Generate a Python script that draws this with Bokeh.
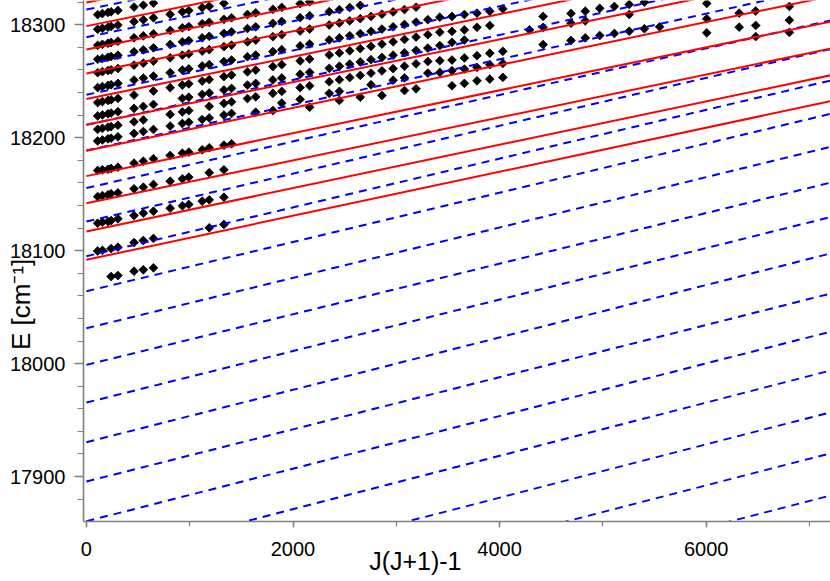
import math
from bokeh.plotting import figure
from bokeh.models import Range1d, SingleIntervalTicker
from bokeh.embed import file_html
from bokeh.resources import INLINE

x_title = "J(J+1)-1"
y_title = "E [cm\u207b\u00b9]"
x_tick_step = 2000
y_tick_step = 100

# red solid term lines: energy at J(J+1)-1 = 0 and slope
red_e0 = [18091.9, 18117.0, 18142.0, 18166.0, 18188.4, 18211.4, 18234.2, 18256.9, 18278.1, 18298.8, 18319.7]
red_b = [0.0195, 0.0192, 0.0190, 0.0190, 0.0190, 0.0189, 0.0188, 0.0187, 0.0186, 0.0185, 0.0184]
# blue dashed term lines
blue_e0 = [17713.2, 17750.6, 17786.9, 17823.9, 17860.4, 17895.6, 17930.4, 17965.5, 17998.9, 18031.3,
           18064.1, 18095.1, 18125.8, 18155.5, 18188.7, 18211.4, 18238.0, 18264.6, 18289.0, 18313.5]
blue_b = [0.0236, 0.0236, 0.0236, 0.0236, 0.0233, 0.0231, 0.0232, 0.0228, 0.0224, 0.0223,
          0.0218, 0.0216, 0.0212, 0.0206, 0.0202, 0.0199, 0.0196, 0.0193, 0.0190, 0.0187]
line_x_end = 7300

# observed levels (x = J(J+1)-1, E in cm^-1)
row01_x = [239, 305, 461, 551, 649]
row01_e = [18077.1, 18078.0, 18081.8, 18083.1, 18084.8]
row02_x = [109, 155, 239, 305, 461, 551, 649, 1189, 1331]
row02_e = [18099.7, 18100.3, 18101.9, 18103.1, 18107.2, 18109.0, 18110.8, 18120.2, 18123.2]
row03_x = [109, 155, 209, 239, 305, 461, 551, 649, 811, 929, 991, 1121, 1189, 1331]
row03_e = [18124.3, 18125.2, 18125.8, 18126.7, 18128.2, 18131.1, 18133.2, 18134.9, 18137.6, 18139.7, 18140.9, 18143.8, 18145.0, 18147.3]
row04_x = [109, 155, 209, 239, 305, 461, 551, 649, 811, 929, 991, 1189, 1331]
row04_e = [18147.9, 18148.8, 18149.5, 18150.4, 18151.2, 18154.8, 18156.2, 18158.6, 18161.5, 18163.6, 18165.1, 18169.0, 18171.6]
row05_x = [109, 155, 209, 239, 305, 461, 551, 649, 811, 929, 991, 1121, 1189, 1331, 1405]
row05_e = [18171.0, 18171.6, 18172.1, 18172.8, 18173.9, 18177.5, 18179.2, 18181.4, 18184.3, 18186.3, 18187.2, 18189.3, 18191.1, 18193.4, 18194.6]
row05b_x = [1639, 1805, 2161, 2449, 2651, 2861, 3079, 3191, 3539, 3659, 3781, 3905, 4031]
row05b_e = [18222.6, 18224.1, 18227.0, 18233.0, 18235.9, 18237.4, 18241.8, 18243.3, 18246.0, 18248.1, 18250.4, 18251.9, 18253.4]
row06_x = [109, 155, 209, 239, 305, 461, 551, 649, 811, 929, 991, 1121, 1189, 1331, 1405, 1891, 2069, 2351, 2449, 2755, 2969,
           3079, 3305, 3421, 3539, 3659, 3781, 3905, 4031]
row06_e = [18197.1, 18198.0, 18199.0, 18199.6, 18200.8, 18203.8, 18205.5, 18207.3, 18210.3, 18212.6, 18213.7, 18216.2, 18217.5, 18220.1,
           18221.5, 18230.7, 18234.0, 18239.3, 18241.1, 18246.9, 18250.9, 18253.0, 18257.2, 18257.8, 18259.4, 18260.8, 18262.3, 18264.7,
           18265.8]
row07_x = [109, 155, 209, 239, 305, 461, 551, 811, 929, 991, 1189, 1331, 1405, 1559, 1639, 1805, 1891, 2069, 2161, 2351, 2449, 2549,
           2651, 2755, 2861, 2969, 3079, 3191, 3305, 3421, 3539, 3659, 3781, 3905, 4031]
row07_e = [18207.4, 18208.3, 18209.3, 18209.9, 18211.1, 18214.1, 18215.8, 18220.6, 18222.9, 18224.0, 18227.8, 18230.4, 18231.8, 18234.7,
           18236.2, 18239.3, 18241.0, 18244.3, 18246.0, 18249.6, 18251.4, 18253.3, 18255.2, 18257.2, 18259.2, 18261.2, 18263.3, 18265.4,
           18267.5, 18268.2, 18268.8, 18270.6, 18272.6, 18274.8, 18276.5]
row08_x = [109, 155, 209, 239, 305, 461, 551, 649, 929, 991, 1121, 1189, 1331, 1405, 1559, 1639, 1805, 1891, 2069, 2161, 2351, 2449,
           2549, 2651, 2755, 2861, 2969, 3079, 3191, 3305, 3421, 3539, 3659]
row08_e = [18219.3, 18220.2, 18221.2, 18221.8, 18223.0, 18226.0, 18227.7, 18229.5, 18234.8, 18235.9, 18238.4, 18239.7, 18242.3, 18243.7,
           18246.6, 18248.1, 18251.2, 18252.9, 18256.2, 18257.9, 18261.5, 18263.3, 18265.2, 18267.1, 18269.1, 18271.1, 18273.1, 18275.2,
           18277.3, 18279.4, 18281.6, 18284.5, 18286.5]
row09_x = [109, 155, 209, 239, 305, 461, 649, 811, 929, 991, 1121, 1189, 1331, 1405, 1559, 1639, 1805, 1891, 2069, 2161, 2351, 2449,
           2549, 2651, 2755, 2861, 2969, 3079, 3191, 3305, 3421, 3539, 3659, 3781, 3905]
row09_e = [18231.1, 18232.0, 18233.0, 18233.6, 18234.8, 18237.8, 18241.3, 18244.3, 18246.6, 18247.7, 18250.2, 18251.5, 18254.1, 18255.5,
           18258.4, 18259.9, 18263.0, 18264.7, 18268.0, 18269.7, 18273.3, 18275.1, 18277.0, 18278.9, 18280.9, 18282.9, 18284.9, 18287.0,
           18289.1, 18291.2, 18293.4, 18294.2, 18295.5, 18297.8, 18299.3]
row10_x = [109, 155, 209, 239, 305, 461, 551, 649, 811, 929, 991, 1121, 1189, 1331, 1405, 1559, 1639, 1805, 1891, 2069, 2161, 2351,
           2449, 2549, 2651, 2755, 2861, 2969, 3079, 3191, 3305, 3421, 3539, 3659, 3781, 3905, 4031]
row10_e = [18244.4, 18245.3, 18246.3, 18246.9, 18248.1, 18251.1, 18252.8, 18254.6, 18257.6, 18259.9, 18261.0, 18263.5, 18264.8, 18267.4,
           18268.8, 18271.7, 18273.2, 18276.3, 18278.0, 18281.3, 18283.0, 18286.6, 18288.4, 18290.3, 18292.2, 18294.2, 18296.2, 18298.2,
           18300.3, 18302.4, 18304.5, 18306.7, 18307.4, 18309.1, 18310.3, 18312.0, 18314.1]
row11_x = [109, 155, 209, 239, 305, 461, 551, 649, 811, 929, 991, 1121, 1189, 1331, 1405, 1559, 1639, 1805, 1891, 2069, 2161, 2351,
           2449, 2549, 2651, 2755, 2861, 2969, 3079, 3191]
row11_e = [18257.6, 18258.5, 18259.5, 18260.1, 18261.3, 18264.3, 18266.0, 18267.8, 18270.8, 18273.1, 18274.2, 18276.7, 18278.0, 18280.6,
           18282.0, 18284.9, 18286.4, 18289.5, 18291.2, 18294.5, 18296.2, 18299.8, 18301.6, 18303.5, 18305.4, 18307.4, 18309.4, 18311.4,
           18313.5, 18315.6]
row12_x = [109, 155, 209, 239, 305, 461, 551, 649, 811, 929, 991, 1121, 1189, 1331, 1405, 1559, 1639, 1805, 1891, 2069, 2161, 2351,
           2449, 2549, 2651]
row12_e = [18269.4, 18270.3, 18271.3, 18271.9, 18273.1, 18276.1, 18277.8, 18279.6, 18282.6, 18284.9, 18286.0, 18288.5, 18289.8, 18292.4,
           18293.8, 18296.7, 18298.2, 18301.3, 18303.0, 18306.3, 18308.0, 18311.6, 18313.4, 18315.3, 18317.2]
row13_x = [109, 155, 209, 239, 305, 461, 551, 649, 811, 929, 991, 1121, 1189, 1331, 1405, 1559, 1639, 1805, 1891, 2069, 2161]
row13_e = [18281.8, 18282.7, 18283.7, 18284.3, 18285.5, 18288.5, 18290.2, 18292.0, 18295.0, 18297.3, 18298.4, 18300.9, 18302.2, 18304.8,
           18306.2, 18309.1, 18310.6, 18313.7, 18315.4, 18318.7, 18320.4]
row14_x = [109, 155, 209, 239, 305, 461, 551, 649, 811, 929, 991, 1121, 1189, 1331]
row14_e = [18296.0, 18296.9, 18297.9, 18298.5, 18299.7, 18302.7, 18304.4, 18306.2, 18309.2, 18311.5, 18312.6, 18315.1, 18316.4, 18319.0]
row15_x = [109, 155, 209, 239, 305, 461, 551, 649]
row15_e = [18309.0, 18309.9, 18310.9, 18311.5, 18312.7, 18315.7, 18317.4, 18319.2]
rr1_x = [4421, 4691, 4829, 4969, 5111, 5255, 5401, 5549]
rr1_e = [18282.5, 18286.1, 18288.4, 18290.5, 18292.3, 18294.3, 18296.5, 18298.2]
rr2_x = [4289, 4421, 4691, 4829, 5255]
rr2_e = [18295.5, 18297.8, 18301.4, 18303.5, 18309.1]
rr3_x = [4421, 4691, 4829, 4969, 5111, 5255, 5401]
rr3_e = [18307.4, 18310.0, 18312.0, 18314.6, 18316.2, 18318.0, 18320.0]
far_x = [6005, 6005, 6005, 6319, 6319, 6479, 6479, 6479, 6805, 6805, 6805]
far_e = [18318.9, 18305.3, 18292.9, 18310.3, 18297.9, 18312.2, 18299.4, 18289.6, 18316.2, 18304.1, 18293.2]

point_rows = [
    (row01_x, row01_e), (row02_x, row02_e), (row03_x, row03_e), (row04_x, row04_e), (row05_x, row05_e),
    (row05b_x, row05b_e), (row06_x, row06_e), (row07_x, row07_e), (row08_x, row08_e), (row09_x, row09_e),
    (row10_x, row10_e), (row11_x, row11_e), (row12_x, row12_e), (row13_x, row13_e), (row14_x, row14_e),
    (row15_x, row15_e), (rr1_x, rr1_e), (rr2_x, rr2_e), (rr3_x, rr3_e), (far_x, far_e),
]
pts_x, pts_e = [], []
for xs, es in point_rows:
    pts_x.extend(xs)
    pts_e.extend(es)

nb = "\u00a0"
p = figure(width=830, height=581, output_backend="svg", toolbar_location=None,
           x_range=Range1d(-28.1, 7203), y_range=Range1d(17860.2, 18321.5),
           min_border_left=83, min_border_right=0, min_border_top=0, min_border_bottom=60)
p.outline_line_color = None
p.grid.visible = False
p.background_fill_color = "white"
p.border_fill_color = "white"

p.scatter(pts_x, pts_e, marker="square", angle=math.pi / 4, size=6.2,
          fill_color="black", line_color="black", line_width=0.8)

p.segment(x0=[0] * len(blue_e0), y0=blue_e0, x1=[line_x_end] * len(blue_e0),
          y1=[e + b * line_x_end for e, b in zip(blue_e0, blue_b)],
          line_color="#0000ff", line_width=2, line_dash="8 6")
p.segment(x0=[0] * len(red_e0), y0=red_e0, x1=[line_x_end] * len(red_e0),
          y1=[e + b * line_x_end for e, b in zip(red_e0, red_b)],
          line_color="#ff0000", line_width=2)

axis_gray = "#808080"
p.xaxis.ticker = SingleIntervalTicker(interval=x_tick_step, num_minor_ticks=2)
p.yaxis.ticker = SingleIntervalTicker(interval=y_tick_step, num_minor_ticks=5)
for ax in (p.xaxis[0], p.yaxis[0]):
    ax.axis_line_color = axis_gray
    ax.axis_line_width = 1.6
    ax.major_tick_line_color = axis_gray
    ax.minor_tick_line_color = axis_gray
    ax.major_tick_line_width = 1.4
    ax.minor_tick_line_width = 1.2
    ax.major_tick_in = 0
    ax.minor_tick_in = 0
    ax.major_label_text_font = "Liberation Sans"
    ax.major_label_text_font_size = "20px"
    ax.major_label_text_color = "black"
    ax.axis_label_text_font = "Liberation Sans"
    ax.axis_label_text_font_style = "normal"
    ax.axis_label_text_color = "black"
p.xaxis.major_tick_out = 6
p.xaxis.minor_tick_out = 5
p.xaxis.major_label_standoff = 14
p.xaxis.axis_label = x_title + nb * 12
p.xaxis.axis_label_text_font_size = "25px"
p.xaxis.axis_label_standoff = -12
p.yaxis.major_tick_out = 9
p.yaxis.minor_tick_out = 6
p.yaxis.major_label_standoff = 9
p.yaxis.axis_label = y_title + nb * 12
p.yaxis.axis_label_text_font_size = "26px"
p.yaxis.axis_label_standoff = -29

open("out.html", "w").write(file_html(p, INLINE))
